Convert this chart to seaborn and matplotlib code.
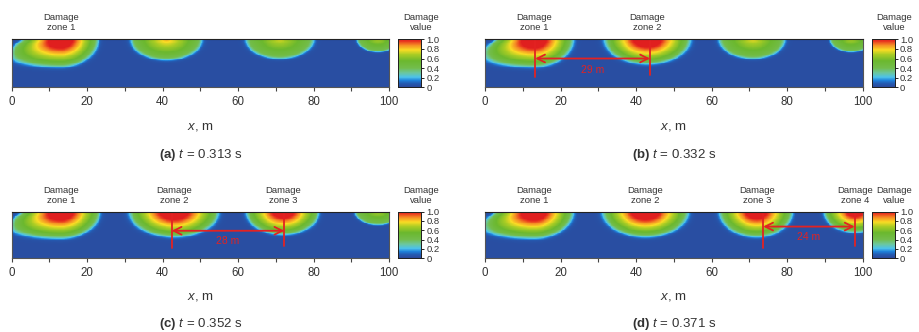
import numpy as np
import matplotlib
matplotlib.use("Agg")
import matplotlib.pyplot as plt
from matplotlib.colors import LinearSegmentedColormap
from matplotlib.transforms import blended_transform_factory
import seaborn as sns

sns.set_theme(style="white")
plt.rcParams["font.family"] = ["Liberation Sans", "DejaVu Sans"]
plt.rcParams["mathtext.fontset"] = "custom"
plt.rcParams["mathtext.rm"] = "Liberation Sans"
plt.rcParams["mathtext.it"] = "Liberation Sans:italic"
plt.rcParams["mathtext.bf"] = "Liberation Sans:bold"

# ---- data -----------------------------------------------------------------
panel_tags = ["a", "b", "c", "d"]
panel_times = ["0.313", "0.332", "0.352", "0.371"]

# damage-zone centres along x (m)
zone_x = [
    [13, 41, 71, 97],
    [13, 43, 71, 97],
    [13, 43, 72, 97],
    [13, 42.5, 72, 98],
]
# damage value at the zone centre on the surface (above 1 saturates)
zone_peak = [
    [1.30, 0.84, 0.74, 0.68],
    [1.30, 1.30, 0.76, 0.68],
    [1.30, 1.30, 1.25, 0.68],
    [1.30, 1.30, 1.25, 1.20],
]
# half-width at the surface (m), left and right of centre
zone_reach_left = [
    [10, 9.5, 9.0, 5.5],
    [10, 11.5, 9.0, 5.5],
    [10, 12.0, 10.0, 6.0],
    [10, 11.5, 10.0, 8.3],
]
zone_reach_right = [
    [10, 9.5, 9.0, 5.5],
    [10.5, 11.5, 8.5, 5.5],
    [10.5, 12.0, 9.5, 6.0],
    [10.5, 11.5, 9.5, 8.3],
]
# penetration depth (fraction of section height)
zone_depth = [
    [0.58, 0.43, 0.40, 0.26],
    [0.58, 0.52, 0.40, 0.26],
    [0.58, 0.55, 0.50, 0.28],
    [0.58, 0.55, 0.55, 0.45],
]
# leftward spread of the first zone with depth (m per unit depth)
zone_lean = [20, 0, 0, 0]

# labelled zones per panel
labelled_zones = [1, 2, 3, 4]
# measured spacing annotations: (x start, x end, distance text)
spacing_x0 = [None, 13.3, 42.4, 73.7]
spacing_x1 = [None, 43.7, 72.2, 97.9]
spacing_text = [None, "29 m", "28 m", "24 m"]
spacing_arrow_z = [None, 0.40, 0.41, 0.32]
spacing_text_z = [None, 0.64, 0.64, 0.54]

x_ticks = [0, 20, 40, 60, 80, 100]
cbar_ticks = [0, 0.2, 0.4, 0.6, 0.8, 1.0]
cbar_ticklabels = ["0", "0.2", "0.4", "0.6", "0.8", "1.0"]

# ---- colour map -----------------------------------------------------------
damage_cmap = LinearSegmentedColormap.from_list(
    "damage",
    [
        (0.00, (0.17, 0.28, 0.60)),
        (0.08, (0.14, 0.36, 0.70)),
        (0.14, (0.12, 0.50, 0.85)),
        (0.21, (0.30, 0.76, 0.92)),
        (0.30, (0.42, 0.78, 0.62)),
        (0.40, (0.45, 0.74, 0.30)),
        (0.55, (0.42, 0.72, 0.18)),
        (0.68, (0.66, 0.80, 0.14)),
        (0.78, (0.98, 0.86, 0.14)),
        (0.88, (0.96, 0.55, 0.14)),
        (0.96, (0.91, 0.22, 0.12)),
        (1.00, (0.88, 0.12, 0.12)),
    ],
)

NX, NZ = 400, 60
xs = (np.arange(NX) + 0.5) * 100 / NX
zs = (np.arange(NZ) + 0.5) / NZ
X, Z = np.meshgrid(xs, zs)


def damage_field(p):
    field = np.full_like(X, 0.03)
    for k in range(len(zone_x[p])):
        xc = zone_x[p][k]
        rl = zone_reach_left[p][k] + zone_lean[k] * Z
        rr = zone_reach_right[p][k]
        dx = X - xc
        u = np.where(dx < 0, dx / rl, dx / rr)
        v = Z / zone_depth[p][k]
        r = np.sqrt(u ** 2 + v ** 2)
        peak = zone_peak[p][k]
        # damage falls off roughly linearly from the surface centre outwards
        inner = peak - (peak - 0.40) / 0.95 * r
        gate = 1 / (1 + np.exp(-(1 - r) / 0.045))
        field = np.maximum(field, 0.03 + (inner - 0.03) * gate)
    return np.clip(field, 0, 1)


# ---- figure ---------------------------------------------------------------
W, H = 919, 332
fig = plt.figure(figsize=(W / 100, H / 100), dpi=100)
text_col = "#333333"
red = "#e32222"

ax_left = [11.7, 485]
ax_w = 377.5
cb_left = [398.3, 872]
cb_w = 22.5
row_top = [39.3, 211.7]
row_h = [48.0, 46.5]

for p in range(4):
    col, row = p % 2, p // 2
    rect = [ax_left[col] / W, 1 - (row_top[row] + row_h[row]) / H,
            ax_w / W, row_h[row] / H]
    cb_rect = [cb_left[col] / W, 1 - (row_top[row] + row_h[row]) / H,
               cb_w / W, row_h[row] / H]
    ax = fig.add_axes(rect)
    cax = fig.add_axes(cb_rect)

    sns.heatmap(damage_field(p), ax=ax, cmap=damage_cmap, vmin=0, vmax=1,
                cbar_ax=cax, xticklabels=False, yticklabels=False,
                rasterized=True)

    # x axis
    ax.set_xticks([t * NX / 100 for t in x_ticks])
    ax.set_xticklabels([str(t) for t in x_ticks], fontsize=8.3, color=text_col)
    ax.set_xticks([t * NX / 100 for t in range(10, 100, 20)], minor=True)
    ax.tick_params(axis="x", which="both", bottom=True, length=3, width=0.8,
                   color="#444444", pad=3)
    ax.set_yticks([])
    ax.set_xlabel("")
    ax.set_ylabel("")
    for s in ax.spines.values():
        s.set_visible(True)
        s.set_color("#555555")
        s.set_linewidth(0.8)
    ax.spines["top"].set_color("#222222")

    ax.text(0.5, -0.83, r"$\mathit{x}$, m", transform=ax.transAxes,
            ha="center", va="center", fontsize=9.5, color=text_col)
    ax.text(0.5, -1.41,
            r"$\mathbf{(" + panel_tags[p] + r")}$ $\mathit{t}$ = "
            + panel_times[p] + " s",
            transform=ax.transAxes, ha="center", va="center",
            fontsize=9.5, color=text_col)

    # zone labels
    trans = blended_transform_factory(ax.transData, ax.transAxes)
    for k in range(labelled_zones[p]):
        ax.text(zone_x[p][k] * NX / 100, 1.35,
                "Damage\nzone %d" % (k + 1), transform=trans,
                ha="center", va="center", fontsize=6.8, color=text_col,
                linespacing=1.25)

    # spacing annotation
    if spacing_text[p] is not None:
        x0 = spacing_x0[p] * NX / 100
        x1 = spacing_x1[p] * NX / 100
        za = spacing_arrow_z[p] * NZ
        ax.plot([x0, x0], [0, 0.79 * NZ], color=red, lw=1.3)
        ax.plot([x1, x1], [0, 0.74 * NZ], color=red, lw=1.3)
        ax.annotate("", xy=(x0, za), xytext=(x1, za),
                    arrowprops=dict(arrowstyle="<->", color=red, lw=1.3,
                                    mutation_scale=14, shrinkA=0, shrinkB=0))
        ax.text((x0 + x1) / 2, spacing_text_z[p] * NZ, spacing_text[p],
                ha="center", va="center", fontsize=7.5, color=red)

    # colour bar
    cax.set_yticks(cbar_ticks)
    cax.set_yticklabels(cbar_ticklabels)
    cax.tick_params(axis="y", length=2.5, width=0.7, pad=1.5,
                    labelsize=6.8, labelcolor=text_col, color="#222222",
                    right=True, left=False)
    for s in cax.spines.values():
        s.set_visible(True)
        s.set_color("#222222")
        s.set_linewidth(0.7)
    cax.text(1.0, 1.35, "Damage\nvalue", transform=cax.transAxes,
             ha="center", va="center", fontsize=6.8, color=text_col,
             linespacing=1.25)

fig.savefig("out.png", dpi=100)
